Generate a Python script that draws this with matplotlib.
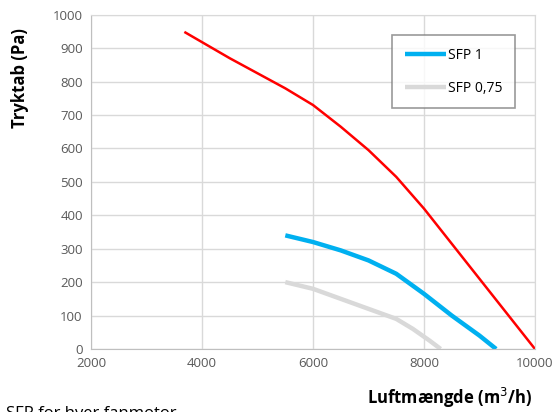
import matplotlib
matplotlib.use("Agg")
import matplotlib.pyplot as plt

# Data
red_x = [3700, 4500, 5000, 5500, 6000, 6500, 7000, 7500, 8000, 9000, 10000]
red_y = [947, 870, 825, 780, 730, 665, 595, 515, 420, 210, 0]

sfp1_x = [5500, 6000, 6500, 7000, 7500, 8000, 8500, 9000, 9300]
sfp1_y = [340, 320, 295, 265, 225, 165, 100, 40, 0]

sfp075_x = [5500, 6000, 6500, 7000, 7500, 7800, 8100, 8300]
sfp075_y = [200, 180, 150, 120, 90, 60, 25, 0]

xticks = [2000, 4000, 6000, 8000, 10000]
yticks = list(range(0, 1001, 100))

plt.rcParams['font.family'] = ['Open Sans', 'DejaVu Sans']

fig = plt.figure(figsize=(5.59, 4.12), dpi=100)
ax = fig.add_axes([0.163, 0.153, 0.794, 0.811])

ax.plot(red_x, red_y, color='#ff0000', lw=1.8)
ax.plot(sfp1_x, sfp1_y, color='#00b0f0', lw=3.2, label='SFP 1', solid_capstyle='butt')
ax.plot(sfp075_x, sfp075_y, color='#d9d9d9', lw=3.2, label='SFP 0,75', solid_capstyle='butt')

ax.set_xlim(2000, 10000)
ax.set_ylim(0, 1000)
ax.set_xticks(xticks)
ax.set_yticks(yticks)
ax.grid(True, color='#d9d9d9', lw=1)
ax.set_axisbelow(True)
for s in ax.spines.values():
    s.set_color('#d9d9d9')
ax.spines['bottom'].set_color('#bfbfbf')
ax.spines['left'].set_color('#bfbfbf')
ax.tick_params(length=0, labelsize=9.5, labelcolor='#595959', pad=6)

ax.set_ylabel('Tryktab (Pa)', fontsize=12, fontweight='bold')
ax.yaxis.set_label_coords(-0.14, 0.81)

fig.text(0.805, 0.035, 'Luftmængde (m$^3$/h)', fontsize=12, fontweight='bold',
         ha='center', va='center')
fig.text(0.01, -0.005, 'SFP for hver fanmotor', fontsize=12, ha='left', va='center')

leg = ax.legend(loc='upper left', bbox_to_anchor=(0.663, 0.96), frameon=True,
                fancybox=False, fontsize=10, handlelength=3.0, handletextpad=0.1,
                labelspacing=1.3, borderpad=0.9)
leg.get_frame().set_edgecolor('#808080')
leg.get_frame().set_linewidth(1.2)

fig.savefig('out.png', dpi=100)
